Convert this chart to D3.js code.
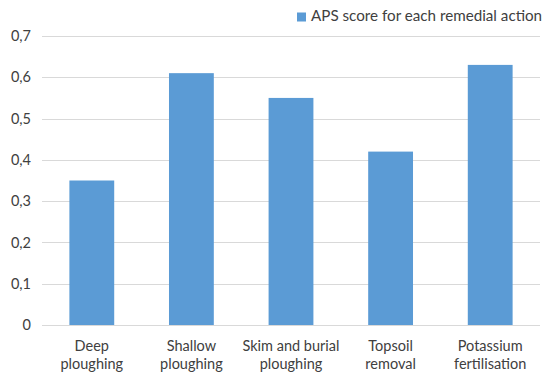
<!DOCTYPE html>
<html>
<head>
<meta charset="utf-8">
<script src="https://cdn.jsdelivr.net/npm/d3@7"></script>
<style>
  html, body { margin: 0; padding: 0; background: #fff; }
  svg { display: block; }
</style>
</head>
<body>
<svg id="chart" width="545" height="375"></svg>
<script>
// APS score per remedial action
const categories = [
  ["Deep", "ploughing"],
  ["Shallow", "ploughing"],
  ["Skim and burial", "ploughing"],
  ["Topsoil", "removal"],
  ["Potassium", "fertilisation"]
];
const scores = [0.35, 0.61, 0.55, 0.42, 0.63];
const yTicks = [0, 0.1, 0.2, 0.3, 0.4, 0.5, 0.6, 0.7];
const seriesName = "APS score for each remedial action";

const svg = d3.select("#chart");
const font = "Lato, 'Open Sans', sans-serif";
const textColor = "#404040";
const barColor = "#5B9BD5";

const plot = { left: 42, right: 540, top: 36, bottom: 325 };

const x = d3.scaleBand()
  .domain(d3.range(categories.length))
  .range([plot.left, plot.right])
  .paddingInner(0.55)
  .paddingOuter(0.275);

const y = d3.scaleLinear().domain([0, 0.7]).range([plot.bottom, plot.top]);

// horizontal gridlines
svg.append("g")
  .selectAll("line")
  .data(yTicks)
  .join("line")
  .attr("x1", plot.left).attr("x2", plot.right)
  .attr("y1", d => Math.round(y(d)) + 0.5)
  .attr("y2", d => Math.round(y(d)) + 0.5)
  .attr("stroke", "#d9d9d9")
  .attr("stroke-width", 1);

// y axis labels
const fmt = d => d === 0 ? "0" : d3.format(".1f")(d).replace(".", ",");
svg.append("g")
  .selectAll("text")
  .data(yTicks)
  .join("text")
  .attr("x", 31)
  .attr("y", d => y(d))
  .attr("dy", "0.35em")
  .attr("text-anchor", "end")
  .attr("font-family", font)
  .attr("font-size", 14.5)
  .attr("fill", textColor)
  .text(fmt);

// bars
svg.append("g")
  .selectAll("rect")
  .data(scores)
  .join("rect")
  .attr("x", (d, i) => x(i))
  .attr("width", x.bandwidth())
  .attr("y", d => y(d))
  .attr("height", d => y(0) - y(d))
  .attr("fill", barColor);

// zero baseline on top of bars
svg.append("line")
  .attr("x1", plot.left).attr("x2", plot.right)
  .attr("y1", Math.round(y(0)) + 0.5).attr("y2", Math.round(y(0)) + 0.5)
  .attr("stroke", "#d9d9d9");

// category labels (two lines)
const cat = svg.append("g")
  .selectAll("text")
  .data(categories)
  .join("text")
  .attr("x", (d, i) => x(i) + x.bandwidth() / 2)
  .attr("y", 351)
  .attr("text-anchor", "middle")
  .attr("font-family", font)
  .attr("font-size", 14.5)
  .attr("fill", textColor);
cat.selectAll("tspan")
  .data(d => d)
  .join("tspan")
  .attr("x", function () { return d3.select(this.parentNode).attr("x"); })
  .attr("dy", (d, i) => i === 0 ? 0 : 17.5)
  .text(d => d);

// legend
const legend = svg.append("g");
legend.append("rect")
  .attr("x", 297).attr("y", 12.5)
  .attr("width", 9).attr("height", 9)
  .attr("fill", barColor);
legend.append("text")
  .attr("x", 311).attr("y", 21)
  .attr("font-family", font)
  .attr("font-size", 15.2)
  .attr("fill", textColor)
  .text(seriesName);
</script>
</body>
</html>
